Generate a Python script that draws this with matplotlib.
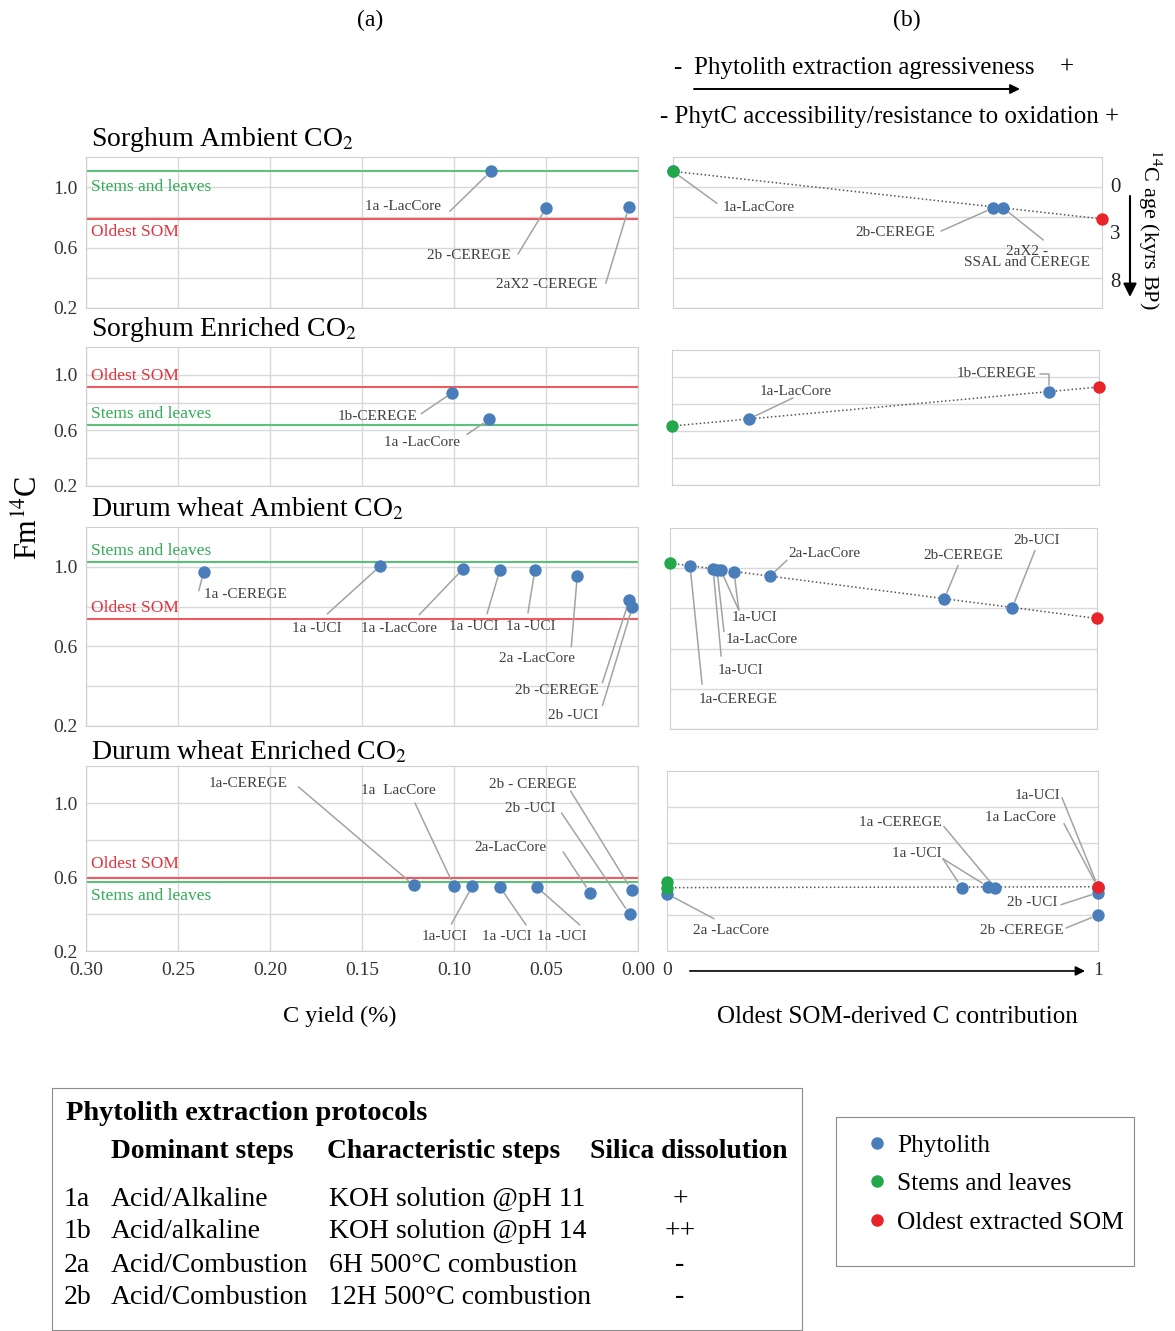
import numpy as np
import matplotlib.pyplot as plt
from matplotlib.transforms import offset_copy
from matplotlib.lines import Line2D
from matplotlib.patches import FancyArrowPatch

plt.rcParams['font.family'] = ['Liberation Serif', 'DejaVu Serif']
plt.rcParams['mathtext.fontset'] = 'stix'

# ---------------- data ----------------
panel_titles = ["Sorghum Ambient CO$_2$", "Sorghum Enriched CO$_2$",
                "Durum wheat Ambient CO$_2$", "Durum wheat Enriched CO$_2$"]

# (a) Fm14C vs C yield (%)
sa_yield = [0.080, 0.050, 0.005]
sa_fm = [1.105, 0.862, 0.867]
sa_names = ["1a -LacCore", "2b -CEREGE", "2aX2 -CEREGE"]
se_yield = [0.101, 0.081]
se_fm = [0.871, 0.679]
se_names = ["1b-CEREGE", "1a -LacCore"]
da_yield = [0.236, 0.140, 0.095, 0.075, 0.056, 0.033, 0.0047, 0.003]
da_fm = [0.975, 1.005, 0.99, 0.985, 0.985, 0.955, 0.834, 0.80]
da_names = ["1a -CEREGE", "1a -UCI", "1a -LacCore", "1a -UCI", "1a -UCI",
            "2a -LacCore", "2b -CEREGE", "2b -UCI"]
de_yield = [0.122, 0.100, 0.090, 0.075, 0.055, 0.026, 0.0035, 0.0046]
de_fm = [0.557, 0.551, 0.551, 0.546, 0.546, 0.514, 0.53, 0.40]
de_names = ["1a-CEREGE", "1a  LacCore", "1a-UCI", "1a -UCI", "1a -UCI",
            "2a-LacCore", "2b - CEREGE", "2b -UCI"]

stems_fm = [1.105, 0.636, 1.025, 0.575]
som_fm = [0.79, 0.914, 0.738, 0.592]

# (b) Fm14C vs oldest SOM-derived C contribution
sa_contrib = [0.0, 0.746, 0.77]
sa_fm_b = [1.105, 0.862, 0.862]
sa_names_b = ["1a-LacCore", "2b-CEREGE", "2aX2 -\nSSAL and CEREGE"]
se_contrib = [0.18, 0.883]
se_fm_b = [0.689, 0.889]
se_names_b = ["1a-LacCore", "1b-CEREGE"]
da_contrib = [0.047, 0.101, 0.110, 0.119, 0.150, 0.234, 0.642, 0.801]
da_fm_b = [1.01, 0.995, 0.993, 0.99, 0.98, 0.96, 0.845, 0.80]
da_names_b = ["1a-CEREGE", "1a-UCI", "1a-LacCore", "1a-UCI", "1a-UCI",
              "2a-LacCore", "2b-CEREGE", "2b-UCI"]
de_contrib = [0.0, 0.684, 0.745, 0.761, 1.0, 1.0, 1.0, 1.0]
de_fm_b = [0.518, 0.552, 0.557, 0.552, 0.557, 0.552, 0.524, 0.40]
de_names_b = ["2a -LacCore", "1a -UCI", "1a -UCI", "1a -CEREGE", "1a-UCI",
              "1a LacCore", "2b -UCI", "2b -CEREGE"]

stems_fm_b = [[1.105], [0.637], [1.025], [0.585, 0.552]]
som_fm_b = [0.79, 0.926, 0.75, 0.557]

age_ticks = [0, 3, 8]  # kyrs BP

yield_ticks = [0.30, 0.25, 0.20, 0.15, 0.10, 0.05, 0.00]
fm_ticks = [0.2, 0.4, 0.6, 0.8, 1.0]
fm_ticklabels = ["0.2", "", "0.6", "", "1.0"]

protocol_ids = ["1a", "1b", "2a", "2b"]
dominant_steps = ["Acid/Alkaline", "Acid/alkaline", "Acid/Combustion", "Acid/Combustion"]
characteristic_steps = ["KOH solution @pH 11", "KOH solution @pH 14",
                        "6H 500°C combustion", "12H 500°C combustion"]
silica_dissolution = ["+", "++", "-", "-"]

# ---------------- layout / style ----------------
W, H = 1175, 1331
BLUE, GREEN, RED = '#4a7ebb', '#22a84a', '#e8232a'
GLINE, RLINE = '#5cc27a', '#ec5a62'
GTXT, RTXT = '#30ad55', '#e5313b'
GRID = '#d9d9d9'
LEAD = '#a3a3a3'
TXT = '#404040'

fig = plt.figure(figsize=(W / 100, H / 100), dpi=100)


def rect(x0, y0, x1, y1):
    return [x0 / W, 1 - y1 / H, (x1 - x0) / W, (y1 - y0) / H]


left_rects = [(86, 157, 638, 308), (86, 347, 638, 486), (86, 527, 638, 726), (86, 766, 638, 951)]
right_rects = [(673, 157, 1102, 308), (672, 350, 1099, 485), (670, 528, 1097, 729), (667, 771, 1098, 951)]
title_off = [17, 17, 18, 14]
stems_lab_off = [16, -11, -11, 14]
som_lab_off = [13, -11, -11, -14]

# label layout: (text idx, target idxs, text offset px, leader start offset px, ha, connection)
lay_a = [
    [(0, [0], (-50, 35), (-41, 40), 'right', None),
     (1, [1], (-35, 47), (-28, 46), 'right', None),
     (2, [2], (-31, 77), (-23, 76), 'right', None)],
    [(0, [0], (-35, 24), (-31, 21), 'right', None),
     (1, [1], (-29, 23), (-22, 15), 'right', None)],
    [(0, [0], (0, 23), (-5, 19), 'left', None),
     (1, [1], (-64, 63), (-53, 48), 'center', None),
     (2, [2], (-64, 60), (-44, 46), 'center', None),
     (3, [3], (-26, 57), (-13, 44), 'center', None),
     (4, [4], (-4, 57), (-7, 43), 'center', None),
     (5, [5], (-40, 83), (-6, 71), 'center', None),
     (6, [6], (-72, 91), (-27, 83), 'center', None),
     (7, [7], (-59, 109), (-30, 99), 'center', None)],
    [(0, [0], (-165, -101), (-115, -98), 'center', None),
     (1, [1], (-56, -96), (-39, -83), 'center', None),
     (2, [2], (-28, 50), (-21, 38), 'center', None),
     (3, [3], (7, 50), (26, 38), 'center', None),
     (4, [4], (25, 50), (43, 38), 'center', None),
     (5, [5], (-80, -45), (-27, -41), 'center', None),
     (6, [6], (-99, -105), (-61, -99), 'center', None),
     (7, [7], (-99, -105), (-68, -101), 'center', None)],
]
lay_b = [
    [(0, [0], (50, 36), (44, 32), 'left', None),
     (1, [1], (-58, 24), (-52, 23), 'right', None),
     (2, [2], (24, 49), (40, 32), 'center', None)],
    [(0, [0], (47, -27), (44, -21), 'center', None),
     (1, [1], (-12, -18), (-9, -18), 'right', "angle,angleA=0,angleB=90,rad=0")],
    [(0, [0], (48, 133), (12, 118), 'center', None),
     (1, [1], (27, 101), (8, 87), 'center', None),
     (2, [2], (45, 70), (7, 62), 'center', None),
     (3, [3, 4], (34, 47), (18, 40), 'center', None),
     (5, [5], (18, -23), (17, -16), 'left', None),
     (6, [6], (19, -44), (14, -34), 'center', None),
     (7, [7], (25, -68), (23, -58), 'center', None)],
    [(0, [0], (64, 37), (47, 25), 'center', None),
     (1, [1, 2], (-45, -34), (-19, -29), 'center', None),
     (3, [3], (-95, -65), (-51, -61), 'center', None),
     (4, [4], (-60, -91), (-36, -89), 'center', None),
     (5, [5], (-78, -70), (-34, -64), 'center', None),
     (6, [6], (-66, 10), (-37, 12), 'center', None),
     (7, [7], (-76, 15), (-32, 13), 'center', None)],
]

a_x = [sa_yield, se_yield, da_yield, de_yield]
a_y = [sa_fm, se_fm, da_fm, de_fm]
a_names = [sa_names, se_names, da_names, de_names]
b_x = [sa_contrib, se_contrib, da_contrib, de_contrib]
b_y = [sa_fm_b, se_fm_b, da_fm_b, de_fm_b]
b_names = [sa_names_b, se_names_b, da_names_b, de_names_b]


def add_labels(ax, xs, ys, texts, layout):
    for i, targets, (tdx, tdy), (ldx, ldy), ha, conn in layout:
        x0, y0 = xs[targets[0]], ys[targets[0]]
        ttr = offset_copy(ax.transData, fig=fig, x=tdx, y=-tdy, units='dots')
        ax.text(x0, y0, texts[i], transform=ttr, ha=ha, va='center', fontsize=11,
                color=TXT, linespacing=0.8, clip_on=False)
        ltr = offset_copy(ax.transData, fig=fig, x=ldx, y=-ldy, units='dots')
        for t in targets:
            ax.annotate('', xy=(xs[t], ys[t]), xytext=(x0, y0), textcoords=ltr,
                        annotation_clip=False,
                        arrowprops=dict(arrowstyle='-', color=LEAD, lw=1.1,
                                        shrinkA=0, shrinkB=5, connectionstyle=conn))


def style_axes(ax):
    for s in ax.spines.values():
        s.set_color('#d0d0d0')
    ax.tick_params(length=0, labelsize=14, labelcolor='#333333')
    ax.set_ylim(0.2, 1.2)
    ax.set_yticks(fm_ticks)


for k in range(4):
    # ---- (a) panel ----
    ax = fig.add_axes(rect(*left_rects[k]))
    style_axes(ax)
    ax.set_xlim(0.30, 0.0)
    ax.set_xticks(yield_ticks)
    ax.set_yticklabels(fm_ticklabels)
    ax.tick_params(axis='y', pad=6)
    if k == 3:
        ax.set_xticklabels([f"{v:.2f}" for v in yield_ticks])
        ax.tick_params(axis='x', pad=8)
    else:
        ax.set_xticklabels([])
    ax.grid(color=GRID, lw=1)
    ax.set_axisbelow(True)
    ax.axhline(stems_fm[k], color=GLINE, lw=1.5, zorder=2)
    ax.axhline(som_fm[k], color=RLINE, lw=1.5, zorder=2)
    ax.annotate('Stems and leaves', xy=(0, stems_fm[k]), xycoords=('axes fraction', 'data'),
                xytext=(5, -stems_lab_off[k]), textcoords='offset pixels',
                ha='left', va='center', fontsize=12.5, color=GTXT)
    ax.annotate('Oldest SOM', xy=(0, som_fm[k]), xycoords=('axes fraction', 'data'),
                xytext=(5, -som_lab_off[k]), textcoords='offset pixels',
                ha='left', va='center', fontsize=12.5, color=RTXT)
    ax.scatter(a_x[k], a_y[k], s=80, color=BLUE, zorder=4, clip_on=False, linewidths=0)
    add_labels(ax, a_x[k], a_y[k], a_names[k], lay_a[k])
    ax.annotate(panel_titles[k], xy=(0, 1), xycoords='axes fraction',
                xytext=(5, title_off[k]), textcoords='offset pixels',
                ha='left', va='center', fontsize=20)

    # ---- (b) panel ----
    bx = fig.add_axes(rect(*right_rects[k]))
    style_axes(bx)
    bx.set_xlim(0, 1)
    bx.set_yticklabels([])
    bx.grid(axis='y', color=GRID, lw=1)
    bx.set_axisbelow(True)
    if k == 3:
        bx.set_xticks([0, 1])
        bx.set_xticklabels(['0', '1'])
        bx.tick_params(axis='x', pad=8)
        bx.annotate('', xy=(0.97, -0.111), xytext=(0.053, -0.111), xycoords='axes fraction',
                    annotation_clip=False,
                    arrowprops=dict(arrowstyle='-|>', color='black', lw=1.2,
                                    mutation_scale=14, shrinkA=0, shrinkB=0))
    else:
        bx.set_xticks([])
    bx.plot([0, 1], [stems_fm_b[k][-1], som_fm_b[k]], color='#555555', lw=1.1,
            ls=(0, (1, 1.6)), zorder=3)
    bx.scatter(b_x[k], b_y[k], s=80, color=BLUE, zorder=4, clip_on=False, linewidths=0)
    bx.scatter([0] * len(stems_fm_b[k]), stems_fm_b[k], s=80, color=GREEN, zorder=5,
               clip_on=False, linewidths=0)
    bx.scatter([1], [som_fm_b[k]], s=80, color=RED, zorder=5, clip_on=False, linewidths=0)
    add_labels(bx, b_x[k], b_y[k], b_names[k], lay_b[k])
    if k == 0:
        for a in age_ticks:
            bx.annotate(str(a), xy=(1, np.exp(-a * 1000 / 8033)),
                        xycoords=('axes fraction', 'data'), xytext=(13, 0),
                        textcoords='offset pixels', ha='center', va='center',
                        fontsize=15, color='#222222')


def fig_arrow(x0, y0, x1, y1, ms, lw=1.4):
    fig.add_artist(FancyArrowPatch((x0 / W, 1 - y0 / H), (x1 / W, 1 - y1 / H),
                                   transform=fig.transFigure, arrowstyle='-|>',
                                   mutation_scale=ms, color='black', lw=lw,
                                   shrinkA=0, shrinkB=0))


def ftext(x, y, s, **kw):
    fig.text(x / W, 1 - y / H, s, **kw)


ftext(370, 20, "(a)", ha='center', va='center', fontsize=17)
ftext(907, 20, "(b)", ha='center', va='center', fontsize=17)
ftext(677, 68, "-", ha='center', va='center', fontsize=18)
ftext(694, 68, "Phytolith extraction agressiveness", ha='left', va='center', fontsize=18)
ftext(1067, 68, "+", ha='center', va='center', fontsize=18)
fig_arrow(694, 89, 1020, 89, 14)
ftext(890, 117, "- PhytC accessibility/resistance to oxidation +", ha='center', va='center',
      fontsize=18)
ftext(1150, 229, r"$^{14}$C age (kyrs BP)", ha='center', va='center', fontsize=16,
      rotation=270)
fig_arrow(1130, 196, 1130, 297, 20, lw=1.5)
ftext(28, 518, r"Fm$^{14}$C", ha='center', va='center', fontsize=22, rotation=90)
ftext(340, 1016, "C yield (%)", ha='center', va='center', fontsize=17.5)
ftext(897, 1017, "Oldest SOM-derived C contribution", ha='center', va='center', fontsize=18)

# ---- protocol table ----
tx = fig.add_axes(rect(52, 1088, 802, 1330))
tx.set_xticks([])
tx.set_yticks([])
for s in tx.spines.values():
    s.set_color('#8c8c8c')


def ttext(x, y, s, size=20, **kw):
    tx.text((x - 52) / 750, 1 - (y - 1088) / 242, s, transform=tx.transAxes,
            va='center', fontsize=size, **kw)


ttext(66, 1114, "Phytolith extraction protocols", size=20.5, ha='left', fontweight='bold')
ttext(111, 1151, "Dominant steps", size=19.8, ha='left', fontweight='bold')
ttext(327, 1151, "Characteristic steps", size=19.8, ha='left', fontweight='bold')
ttext(590, 1151, "Silica dissolution", size=19.8, ha='left', fontweight='bold')
for r, yy in enumerate([1200, 1232, 1265, 1297]):
    ttext(64, yy, protocol_ids[r], ha='left')
    ttext(111, yy, dominant_steps[r], ha='left')
    ttext(329, yy, characteristic_steps[r], ha='left')
    ttext(680, yy, silica_dissolution[r], ha='center')

# ---- legend ----
lx = fig.add_axes(rect(836, 1117, 1134, 1266))
lx.set_xticks([])
lx.set_yticks([])
for s in lx.spines.values():
    s.set_color('#8c8c8c')
handles = [Line2D([], [], marker='o', ls='none', color=c, markersize=9, markeredgewidth=0)
           for c in (BLUE, GREEN, RED)]
lx.legend(handles, ["Phytolith", "Stems and leaves", "Oldest extracted SOM"],
          loc='upper left', bbox_to_anchor=((869.5 - 836) / 298, 1 - (1134 - 1117) / 149),
          frameon=False, fontsize=18.3, handlelength=0.6, handletextpad=0.5,
          labelspacing=0.62, borderpad=0, borderaxespad=0)

fig.savefig('out.png', dpi=100)
